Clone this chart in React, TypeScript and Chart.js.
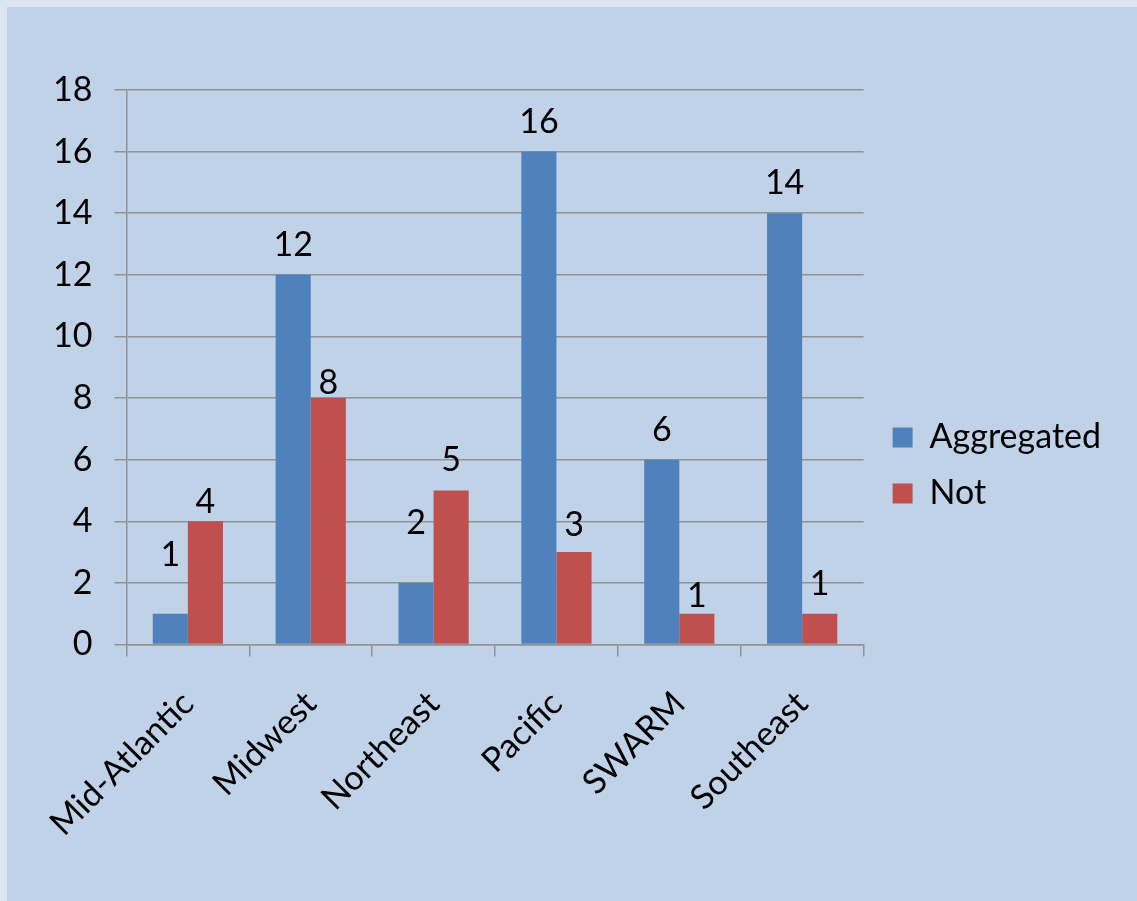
import React, { useEffect, useRef } from "react";
import { Chart, registerables } from "chart.js";

Chart.register(...registerables);

const categories = ["Mid-Atlantic", "Midwest", "Northeast", "Pacific", "SWARM", "Southeast"];
const aggregated = [1, 12, 2, 16, 6, 14];
const notAggregated = [4, 8, 5, 3, 1, 1];
const seriesNames = ["Aggregated", "Not"];
const yTicks = [0, 2, 4, 6, 8, 10, 12, 14, 16, 18];

// small pixel nudges for data labels (label layout only)
const labelNudge: number[][] = [
  [-29, 0, -30, 0, 0, 0],
  [11, 15, 0, 3, 12, 0],
];

const FONT = "Lato, 'Open Sans', sans-serif";
const FS = 34;

const dataLabelPlugin = {
  id: "dataLabels",
  beforeDraw(chart: any) {
    // fine placement of the legend block
    const lg = chart.legend;
    if (lg && !lg._nudged) {
      lg.left += 7;
      lg.right += 7;
      lg.top -= 15;
      lg.bottom -= 15;
      lg._nudged = true;
    }
  },
  afterDatasetsDraw(chart: any) {
    const ctx = chart.ctx;
    ctx.save();
    ctx.font = `${FS}px ${FONT}`;
    ctx.fillStyle = "#000";
    ctx.textAlign = "center";
    ctx.textBaseline = "middle";
    chart.data.datasets.forEach((ds: any, di: number) => {
      const meta = chart.getDatasetMeta(di);
      meta.data.forEach((el: any, i: number) => {
        const v = ds.data[i];
        ctx.fillText(String(v), el.x, el.y - 30 + (labelNudge[di]?.[i] ?? 0));
      });
    });
    ctx.restore();
  },
};

export default function App() {
  const ref = useRef<HTMLCanvasElement>(null);
  useEffect(() => {
    if (!ref.current) return;
    const chart = new Chart(ref.current, {
      type: "bar",
      data: {
        labels: categories,
        datasets: [
          { label: seriesNames[0], data: aggregated, backgroundColor: "#4f81bd" },
          { label: seriesNames[1], data: notAggregated, backgroundColor: "#c0504d" },
        ],
      },
      options: {
        animation: false,
        responsive: false,
        maintainAspectRatio: false,
        layout: { padding: { top: 83, left: 24, right: 33, bottom: 30 } },
        datasets: { bar: { categoryPercentage: 2 / 3.5, barPercentage: 1 } },
        plugins: {
          tooltip: { enabled: false },
          legend: {
            position: "right",
            align: "center",
            labels: {
              boxWidth: 20,
              boxHeight: 20,
              padding: 22,
              color: "#000",
              font: { family: FONT, size: FS },
            },
          },
        },
        scales: {
          x: {
            offset: true,
            grid: {
              offset: true,
              drawOnChartArea: false,
              drawTicks: true,
              tickLength: 12,
              color: "#929292",
              lineWidth: 1.5,
            },
            border: { color: "#929292", width: 1.5 },
            ticks: {
              color: "#000",
              padding: 27,
              font: { family: FONT, size: FS },
              minRotation: 45,
              maxRotation: 45,
              autoSkip: false,
            },
          },
          y: {
            min: 0,
            max: 18,
            afterBuildTicks(scale: any) {
              scale.ticks = yTicks.map((v) => ({ value: v }));
            },
            grid: { color: "#929292", lineWidth: 1.5, tickLength: 12 },
            border: { color: "#929292", width: 1.5 },
            ticks: {
              color: "#000",
              padding: 22,
              font: { family: FONT, size: FS },
            },
          },
        },
      },
      plugins: [dataLabelPlugin],
    });
    return () => chart.destroy();
  }, []);

  return (
    <div style={{ position: "fixed", left: 0, top: 0, width: 1137, height: 901, background: "#dce6f2" }}>
      <div style={{ position: "absolute", left: 7, top: 7, width: 1130, height: 894, background: "#bfd2e7" }}>
        <canvas ref={ref} width={1130} height={894} style={{ display: "block" }} />
      </div>
    </div>
  );
}
